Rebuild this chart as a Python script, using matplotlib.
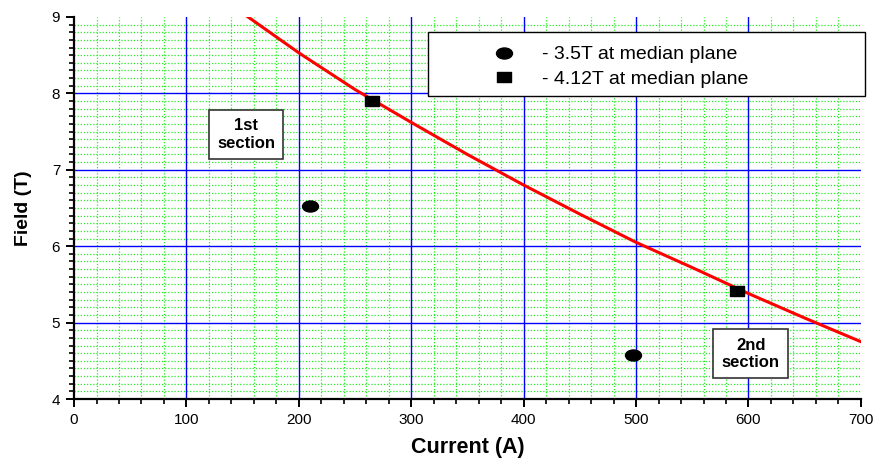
import matplotlib
matplotlib.use("Agg")
import matplotlib.pyplot as plt
from matplotlib.ticker import MultipleLocator
from matplotlib.lines import Line2D
from matplotlib.path import Path
from matplotlib.transforms import Affine2D
from matplotlib.patches import Rectangle

plt.rcParams['font.family'] = ['Liberation Sans', 'DejaVu Sans']

# Fitted red curve
curve_current = [150, 200, 250, 300, 350, 400, 450, 500, 550, 600, 650, 700]
curve_field = [9.05, 8.53, 8.05, 7.62, 7.20, 6.80, 6.42, 6.05, 5.72, 5.38, 5.06, 4.75]

# 3.5T at median plane (circles)
circ_current = [210, 497]
circ_field = [6.52, 4.58]

# 4.12T at median plane (squares)
sq_current = [265, 590]
sq_field = [7.90, 5.41]

x_ticks = [0, 100, 200, 300, 400, 500, 600, 700]
y_ticks = [4, 5, 6, 7, 8, 9]
legend_labels = ['- 3.5T at median plane', '- 4.12T at median plane']

# squashed marker shapes (wider than tall, as in the original)
ellipse = Path(Affine2D().scale(1.0, 0.69).transform(Path.unit_circle().vertices),
               Path.unit_circle().codes)
flat_sq = Path([(-1, -0.72), (1, -0.72), (1, 0.72), (-1, 0.72), (-1, -0.72)],
               [Path.MOVETO, Path.LINETO, Path.LINETO, Path.LINETO, Path.CLOSEPOLY])

fig = plt.figure(figsize=(8.74, 4.58), dpi=100)
ax = fig.add_axes([0.0847, 0.1288, 0.9003, 0.8342])

ax.set_xlim(0, 700)
ax.set_ylim(4, 9)
ax.set_xticks(x_ticks)
ax.set_yticks(y_ticks)
ax.xaxis.set_minor_locator(MultipleLocator(20))
ax.yaxis.set_minor_locator(MultipleLocator(0.1))

ax.grid(which='minor', color='#22ee22', linestyle=(0, (1, 1.5)), linewidth=0.9)
for xv in x_ticks[1:-1]:
    ax.axvline(xv, color='#0000ff', linewidth=1.0, zorder=1.5)
for yv in y_ticks[1:-1]:
    ax.axhline(yv, color='#0000ff', linewidth=1.0, zorder=1.5)
ax.set_axisbelow(True)

for s in ['top', 'right']:
    ax.spines[s].set_visible(False)
for s in ['left', 'bottom']:
    ax.spines[s].set_linewidth(1.6)
    ax.spines[s].set_color('black')

ax.tick_params(which='major', direction='out', length=6, width=1.4, labelsize=11, pad=4)
ax.tick_params(which='minor', direction='out', length=3.5, width=1.2)

ax.plot(curve_current, curve_field, color='#ff0000', linewidth=2.2, zorder=3)
ax.plot(circ_current, circ_field, linestyle='none', marker=ellipse, markersize=11.5,
        color='black', zorder=4)
ax.plot(sq_current, sq_field, linestyle='none', marker=flat_sq, markersize=10.5,
        color='black', zorder=4)

ax.set_xlabel('Current (A)', fontsize=15.5, fontweight='bold', labelpad=7)
ax.set_ylabel('Field (T)', fontsize=14, fontweight='bold', labelpad=14)

# legend frame
frame = Rectangle((0.4498, 0.7932), 0.5552, 0.1675, transform=ax.transAxes,
                  facecolor='white', edgecolor='black', linewidth=1.0,
                  zorder=4.5, clip_on=False)
ax.add_patch(frame)

handles = [Line2D([], [], linestyle='none', marker=ellipse, markersize=11.5, color='black'),
           Line2D([], [], linestyle='none', marker=flat_sq, markersize=10, color='black')]
leg = ax.legend(handles, legend_labels,
                loc='upper left', bbox_to_anchor=(0.5267, 0.9245), fontsize=14,
                frameon=False, borderpad=0, labelspacing=0.35, handletextpad=1.16,
                handlelength=1.6, borderaxespad=0)
leg.set_zorder(5)

box = dict(boxstyle='square,pad=0.5', facecolor='white', edgecolor='#333333', linewidth=1.2)
ax.text(153, 7.46, '1st\nsection', ha='center', va='center', fontsize=12,
        fontweight='bold', bbox=box, zorder=5, linespacing=1.2)
ax.text(602, 4.59, '2nd\nsection', ha='center', va='center', fontsize=12,
        fontweight='bold', bbox=box, zorder=5, linespacing=1.2)

fig.savefig('out.png', dpi=100)
